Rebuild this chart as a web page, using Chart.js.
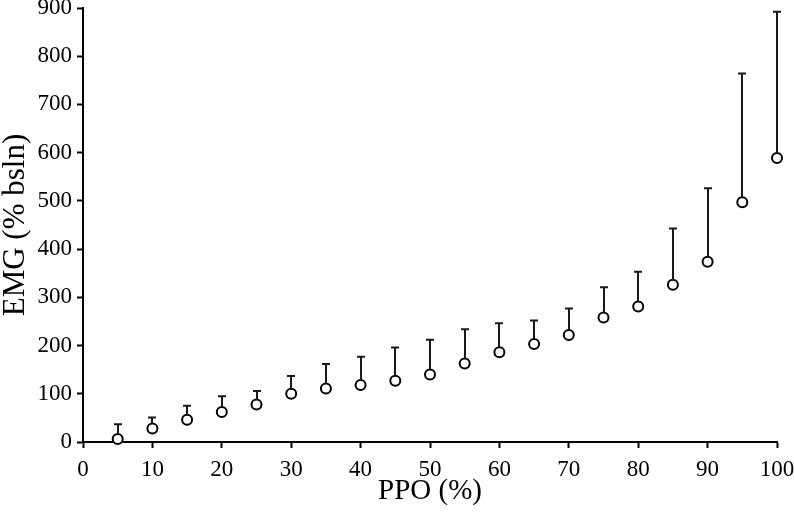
<!DOCTYPE html>
<html>
<head>
<meta charset="utf-8">
<script src="https://cdn.jsdelivr.net/npm/chart.js@4"></script>
<style>
  body { margin: 0; background: #fff; }
</style>
</head>
<body>
<canvas id="myChart" width="794" height="513"></canvas>
<script>
'use strict';

// PPO (%) levels
let ppoLevels = [5, 10, 15, 20, 25, 30, 35, 40, 45, 50, 55, 60, 65, 70, 75, 80, 85, 90, 95, 100];
// mean EMG (% baseline)
let emgMeans = [6, 28, 46, 62, 78, 100, 111, 118, 127, 140, 163, 186, 203, 222, 258, 281, 326, 374, 497, 589];
// top of the error bar (mean + SD)
let emgUpper = [37, 51, 75, 95, 106, 137, 162, 177, 196, 212, 234, 246, 252, 277, 321, 353, 443, 526, 764, 892];

let xTicks = [0, 10, 20, 30, 40, 50, 60, 70, 80, 90, 100];
let yTicks = [0, 100, 200, 300, 400, 500, 600, 700, 800, 900];

let points = [];
for (let i = 0; i < ppoLevels.length; i++) {
  points.push({ x: ppoLevels[i], y: emgMeans[i] });
}

const pointRadius = 5;
const serif = '"Liberation Serif", "Times New Roman", serif';

// draws the upward error bars with a small cap
const errorBars = {
  id: 'errorBars',
  afterDatasetsDraw(chart) {
    const ctx = chart.ctx;
    const xs = chart.scales.x;
    const ys = chart.scales.y;
    ctx.save();
    ctx.strokeStyle = '#1a1a1a';
    ctx.lineWidth = 2;
    for (let i = 0; i < ppoLevels.length; i++) {
      let px = Math.round(xs.getPixelForValue(ppoLevels[i]));
      let yMean = ys.getPixelForValue(emgMeans[i]) - pointRadius;
      let yTop = ys.getPixelForValue(emgUpper[i]);
      ctx.beginPath();
      ctx.moveTo(px, yMean);
      ctx.lineTo(px, yTop);
      ctx.moveTo(px - 4, yTop);
      ctx.lineTo(px + 4, yTop);
      ctx.stroke();
    }
    ctx.restore();
  }
};

const ctx = document.getElementById('myChart');

new Chart(ctx, {
  type: 'scatter',
  data: {
    datasets: [{
      label: 'EMG',
      data: points,
      clip: false,
      pointRadius: pointRadius,
      pointHoverRadius: pointRadius,
      pointBorderWidth: 2,
      pointBorderColor: '#000',
      pointBackgroundColor: '#fff',
      showLine: false
    }]
  },
  options: {
    responsive: false,
    animation: false,
    events: [],
    layout: { padding: { left: 0, top: 8, right: 17, bottom: 0 } },
    plugins: {
      legend: { display: false },
      tooltip: { enabled: false }
    },
    scales: {
      x: {
        type: 'linear',
        min: 0,
        max: 100,
        afterBuildTicks(scale) {
          scale.ticks = xTicks.map(v => ({ value: v }));
        },
        afterFit(scale) {
          scale.height = 71;
          scale.paddingLeft = 0;
          scale.paddingRight = 0;
        },
        border: { display: true, color: '#000', width: 2 },
        grid: { display: true, drawOnChartArea: false, drawTicks: true, tickLength: 6, tickColor: '#000', tickWidth: 2 },
        ticks: {
          color: '#000',
          padding: 8,
          maxRotation: 0,
          autoSkip: false,
          font: { family: serif, size: 23 }
        },
        title: {
          display: true,
          text: 'PPO (%)',
          color: '#000',
          padding: { top: 0, bottom: 7 },
          font: { family: serif, size: 29, lineHeight: 1 }
        }
      },
      y: {
        type: 'linear',
        min: 0,
        max: 900,
        afterBuildTicks(scale) {
          scale.ticks = yTicks.map(v => ({ value: v }));
        },
        afterFit(scale) {
          scale.width = 83;
          scale.paddingTop = 0;
          scale.paddingBottom = 0;
        },
        border: { display: true, color: '#000', width: 2 },
        grid: { display: true, drawOnChartArea: false, drawTicks: true, tickLength: 6, tickColor: '#000', tickWidth: 2 },
        ticks: {
          color: '#000',
          padding: 5,
          autoSkip: false,
          font: { family: serif, size: 23 }
        },
        title: {
          display: true,
          text: 'EMG (% bsln)',
          color: '#000',
          padding: { top: 0, bottom: 0 },
          font: { family: serif, size: 31, lineHeight: 1 }
        }
      }
    }
  },
  plugins: [errorBars]
});
</script>
</body>
</html>
